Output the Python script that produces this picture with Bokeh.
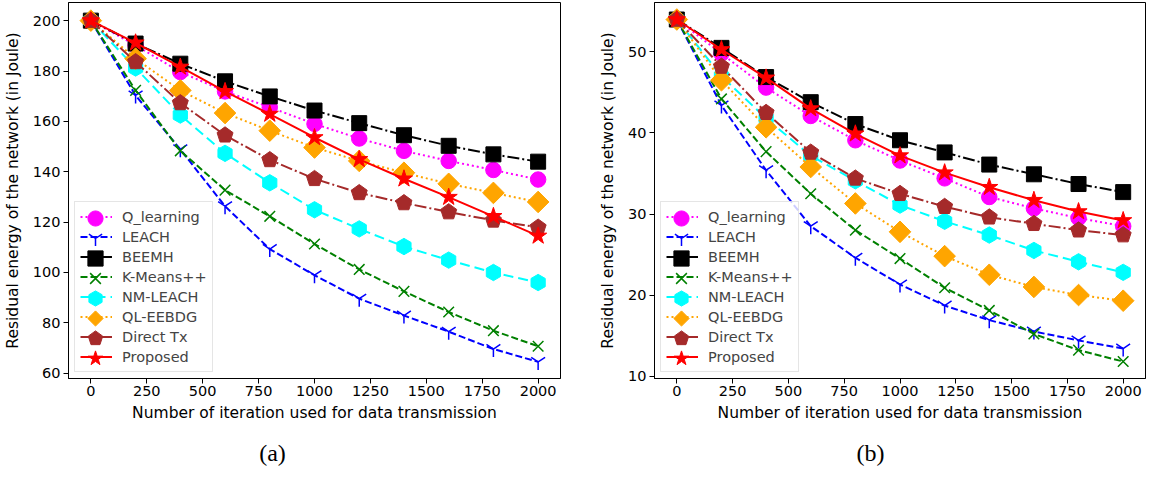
from bokeh.plotting import figure
from bokeh.layouts import row, column
from bokeh.models import Range1d, FixedTicker, Label, Legend, LegendItem
from bokeh.embed import file_html
from bokeh.resources import INLINE

iterations = [0, 200, 400, 600, 800, 1000, 1200, 1400, 1600, 1800, 2000]
names = ["Q_learning", "LEACH", "BEEMH", "K-Means++", "NM-LEACH", "QL-EEBDG", "Direct Tx", "Proposed"]

# Panel (a)
a_q_learning = [200, 190.2, 179.6, 171.9, 165.6, 159.0, 153.2, 148.3, 144.3, 140.7, 136.9]
a_leach = [200, 170.3, 148.9, 126.3, 109.3, 98.9, 89.6, 82.9, 76.5, 69.6, 64.5]
a_beemh = [200, 190.9, 182.9, 175.9, 169.9, 164.3, 159.3, 154.5, 150.3, 146.9, 144.0]
a_kmeans = [200, 172.3, 148.3, 132.7, 122.3, 111.3, 101.2, 92.5, 84.3, 76.9, 70.7]
a_nm_leach = [200, 181.2, 162.5, 147.3, 135.6, 124.9, 117.3, 110.3, 104.9, 100.0, 96.0]
a_ql_eebdg = [200, 184.9, 172.3, 163.3, 156.3, 149.6, 144.3, 139.6, 135.2, 131.6, 128.0]
a_direct_tx = [200, 183.6, 167.3, 154.5, 144.7, 137.2, 131.6, 127.6, 124.0, 120.7, 117.9]
a_proposed = [200, 191.2, 181.6, 171.9, 162.9, 153.6, 144.9, 137.2, 129.9, 122.3, 114.5]

# Panel (b)
b_q_learning = [54, 49.8, 45.6, 42.1, 39.1, 36.6, 34.4, 32.1, 30.7, 29.5, 28.5]
b_leach = [54, 43.4, 35.4, 28.5, 24.6, 21.3, 18.7, 16.9, 15.5, 14.4, 13.4]
b_beemh = [54, 50.5, 46.9, 43.8, 41.1, 39.1, 37.6, 36.1, 34.9, 33.7, 32.7]
b_kmeans = [54, 44.2, 37.7, 32.5, 28.0, 24.5, 20.9, 18.1, 15.2, 13.2, 11.8]
b_nm_leach = [54, 47.0, 41.8, 37.2, 34.1, 31.1, 29.1, 27.4, 25.5, 24.1, 22.8]
b_ql_eebdg = [54, 46.5, 40.7, 35.8, 31.3, 27.8, 24.8, 22.5, 21.0, 20.0, 19.3]
b_direct_tx = [54, 48.2, 42.5, 37.6, 34.4, 32.5, 30.9, 29.6, 28.8, 28.0, 27.4]
b_proposed = [54, 50.3, 46.8, 43.0, 39.9, 37.2, 35.1, 33.3, 31.7, 30.3, 29.2]

x_ticks = [0, 250, 500, 750, 1000, 1250, 1500, 1750, 2000]

# marker kinds: scatter markers, or regular polygons (ngon) with n sides
styles = [
    dict(color="#ff00ff", dash="2 3", marker="circle", size=15.5),
    dict(color="#0000ff", dash="7 3", marker="y", size=16),
    dict(color="#000000", dash="12 3 2 3", marker="square", size=15),
    dict(color="#008000", dash="7 3", marker="x", size=15),
    dict(color="#00ffff", dash="10 5", marker="ngon", n=6, radius=8.2),
    dict(color="#ffa500", dash="2 3", marker="ngon", n=4, radius=10.8),
    dict(color="#a52a2a", dash="12 3 2 3", marker="ngon", n=5, radius=8.4),
    dict(color="#ff0000", dash="solid", marker="star", size=18),
]

FONT = "DejaVu Sans"
TICK_FS = "14.5px"
LABEL_FS = "15.5px"
LEGEND_FS = "14.5px"


def make_panel(series, ymin, ymax, yticks, width, border_right):
    p = figure(width=width, height=438, output_backend="svg", toolbar_location=None,
               x_range=Range1d(-100, 2100), y_range=Range1d(ymin, ymax),
               min_border_left=58, min_border_right=border_right,
               min_border_top=2, min_border_bottom=60)
    p.grid.visible = False
    p.outline_line_color = "black"
    p.outline_line_width = 1
    p.background_fill_color = "white"
    p.border_fill_color = "white"
    for ax in (p.xaxis[0], p.yaxis[0]):
        ax.axis_line_color = "black"
        ax.major_tick_line_color = "black"
        ax.major_tick_out = 5
        ax.major_tick_in = 0
        ax.minor_tick_out = 0
        ax.minor_tick_in = 0
        ax.major_label_text_font = FONT
        ax.major_label_text_font_size = TICK_FS
        ax.major_label_text_color = "black"
        ax.axis_label_text_font = FONT
        ax.axis_label_text_font_size = LABEL_FS
        ax.axis_label_text_font_style = "normal"
        ax.axis_label_text_color = "black"
    p.xaxis.ticker = FixedTicker(ticks=x_ticks)
    p.yaxis.ticker = FixedTicker(ticks=yticks)
    p.xaxis.major_label_standoff = 2
    p.yaxis.major_label_standoff = 3
    p.xaxis.axis_label_standoff = 5
    p.yaxis.axis_label_standoff = 8
    p.xaxis.axis_label = "Number of iteration used for data transmission"
    p.yaxis.axis_label = "Residual energy of the network (in Joule)"

    line_items = []
    marker_renderers = []
    for name, vals, st in zip(names, series, styles):
        lr = p.line(iterations, vals, line_color=st["color"], line_width=2,
                    line_dash=st["dash"])
        if st["marker"] == "ngon":
            mr = p.ngon(x=iterations, y=vals, radius=st["radius"], radius_units="screen",
                        n=st["n"], fill_color=st["color"], line_color=st["color"], angle=0)
        elif st["marker"] in ("x", "y"):
            mr = p.scatter(iterations, vals, marker=st["marker"], size=st["size"],
                           line_color=st["color"], line_width=1.5)
        else:
            mr = p.scatter(iterations, vals, marker=st["marker"], size=st["size"],
                           fill_color=st["color"], line_color=st["color"])
        line_items.append(LegendItem(label=name, renderers=[lr]))
        marker_renderers.append(mr)

    legend = Legend(items=line_items, location=(6, 6), padding=5,
                    spacing=1, glyph_width=32, glyph_height=19, label_height=19,
                    label_standoff=10, label_text_font=FONT, label_text_font_size=LEGEND_FS,
                    border_line_color="#cccccc", border_line_width=1,
                    background_fill_color="white", background_fill_alpha=0.8)
    p.add_layout(legend, "center")
    # marker glyph of each legend row, drawn over the row's line sample
    for k, mr in enumerate(marker_renderers):
        lg = Legend(items=[LegendItem(label=" ", renderers=[mr])],
                    location=(8, 141.5 - 20 * k), padding=0, spacing=0,
                    glyph_width=38, glyph_height=38, label_height=1,
                    label_standoff=0, label_width=1, label_text_font_size="1px",
                    border_line_color=None, background_fill_alpha=0)
        p.add_layout(lg, "center")
    return p


def make_caption(text, width, border_right, cx):
    c = figure(width=width, height=29, output_backend="svg", toolbar_location=None,
               x_axis_type=None, y_axis_type=None,
               min_border_left=58, min_border_right=border_right,
               min_border_top=0, min_border_bottom=0)
    c.grid.visible = False
    c.outline_line_color = None
    c.background_fill_color = "white"
    c.border_fill_color = "white"
    c.add_layout(Label(x=cx, y=14.5, x_units="screen", y_units="screen",
                       text=text, text_align="center", text_baseline="middle",
                       text_font="Liberation Serif", text_font_size="24px",
                       text_color="black"))
    return c


pa = make_panel([a_q_learning, a_leach, a_beemh, a_kmeans, a_nm_leach, a_ql_eebdg, a_direct_tx, a_proposed],
                57.9, 207.2, [60, 80, 100, 120, 140, 160, 180, 200], 596, 36)
pb = make_panel([b_q_learning, b_leach, b_beemh, b_kmeans, b_nm_leach, b_ql_eebdg, b_direct_tx, b_proposed],
                9.7, 56.1, [10, 20, 30, 40, 50], 551, 2)
ca = make_caption("(a)", 596, 36, 214)
cb = make_caption("(b)", 551, 2, 216)

layout = column(row(pa, pb), row(ca, cb))
open("out.html", "w").write(file_html(layout, INLINE))
